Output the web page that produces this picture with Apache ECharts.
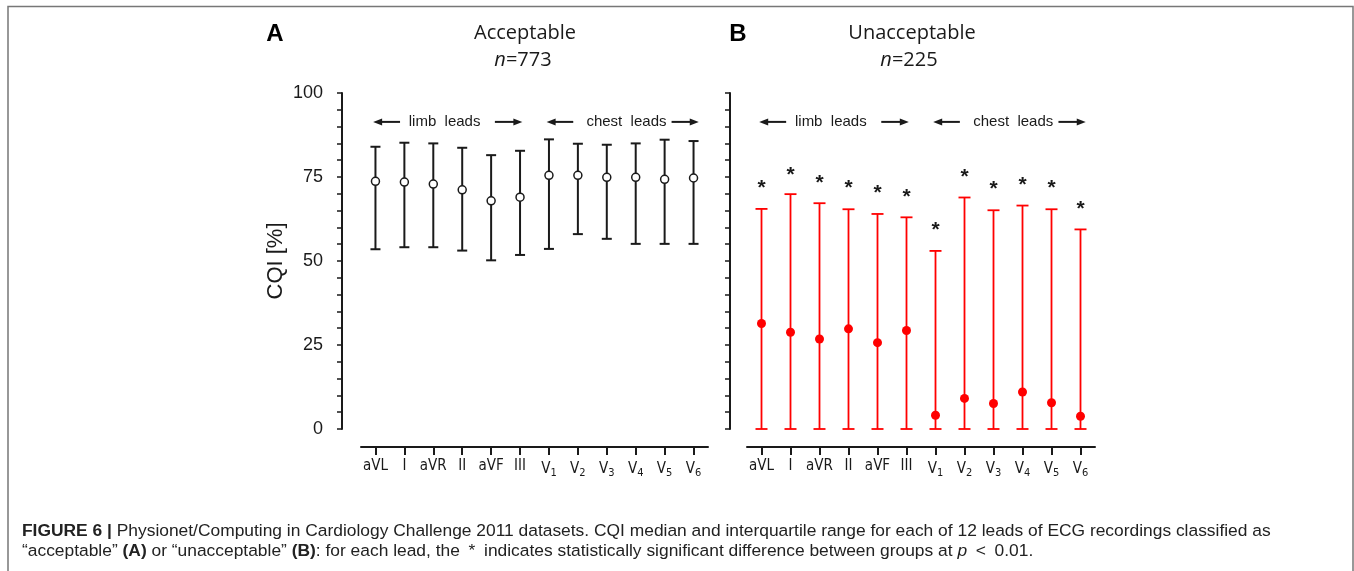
<!DOCTYPE html>
<html><head><meta charset="utf-8">
<script src="https://cdn.jsdelivr.net/npm/echarts@6/dist/echarts.min.js"></script>
<style>html,body{margin:0;padding:0;background:#fff}#c{width:1354px;height:571px}</style>
</head><body><div id="c"></div><script>
// ---- data ----
const leads = ['aVL','I','aVR','II','aVF','III','V1','V2','V3','V4','V5','V6'];
const accMedian = [73.7,73.5,72.9,71.2,67.9,69.0,75.5,75.5,74.9,74.9,74.3,74.7];
const accQ1 = [53.5,54.1,54.1,53.1,50.2,51.8,53.6,58.0,56.6,55.1,55.1,55.1];
const accQ3 = [84.0,85.2,85.0,83.7,81.5,82.8,86.2,84.9,84.6,85.0,86.1,85.7];
const unaMedian = [31.4,28.8,26.8,29.8,25.7,29.3,4.1,9.1,7.6,11.0,7.8,3.8];
const unaQ1 = [0,0,0,0,0,0,0,0,0,0,0,0];
const unaQ3 = [65.5,69.9,67.2,65.4,64.0,63.0,53.0,68.9,65.1,66.5,65.4,59.4];
const unaStar = [72.9,76.8,74.4,72.8,71.4,70.1,60.4,76.1,72.5,73.8,72.8,66.7];
const yMin = 0, yMax = 100, yInterval = 25;
const groupLabels = ['limb  leads','chest  leads'];
const annotY = 91.4;

const TXT = '#1a1a1a';
const RED = '#ff0000';
const chart = echarts.init(document.getElementById('c'), null, {renderer:'canvas'});

function leadLabel(v){
  if (v[0] === 'V') return 'V{s|' + v.slice(1) + '}';
  return v;
}
const xLabelFont = "'Liberation Sans Narrow','DejaVu Sans Condensed','Liberation Sans',sans-serif";

function xAxisCfg(gi){
  return {
    type:'category', gridIndex:gi, data:leads, offset:18,
    axisLine:{show:true, onZero:false, lineStyle:{color:TXT, width:2}},
    axisTick:{show:true, alignWithLabel:true, length:8, lineStyle:{color:TXT, width:2}},
    axisLabel:{color:TXT, fontSize:15, fontFamily:xLabelFont, margin:12, interval:0, hideOverlap:false,
      formatter:leadLabel,
      rich:{s:{fontSize:11, fontFamily:xLabelFont, color:TXT, padding:[9,0,0,0]}}},
    splitLine:{show:false}
  };
}
function yAxisCfg(gi, showLabels, off){
  return {
    type:'value', gridIndex:gi, min:yMin, max:yMax, interval:yInterval, offset:off,
    name: showLabels ? 'CQI [%]' : '', nameLocation:'middle', nameGap:55, nameRotate:90,
    nameTextStyle:{color:TXT, fontSize:22, fontFamily:"'Liberation Sans',Arial,sans-serif"},
    axisLine:{show:true, onZero:false, lineStyle:{color:TXT, width:2}},
    axisTick:{show:true, inside:false, length:5, lineStyle:{color:TXT, width:1.5}},
    minorTick:{show:true, splitNumber:5, length:5, lineStyle:{color:TXT, width:1.5}},
    axisLabel:{show:showLabels, color:TXT, fontSize:18, margin:19, fontFamily:"'Liberation Sans',Arial,sans-serif"},
    splitLine:{show:false}, minorSplitLine:{show:false}
  };
}

function errRender(color, lw, capHalf, withStar){
  return function(params, api){
    const i = api.value(0);
    const lo = api.coord([i, api.value(1)]);
    const hi = api.coord([i, api.value(2)]);
    const st = {stroke:color, lineWidth:lw};
    const ch = [
      {type:'line', shape:{x1:lo[0], y1:lo[1], x2:hi[0], y2:hi[1]}, style:st},
      {type:'line', shape:{x1:hi[0]-capHalf, y1:hi[1], x2:hi[0]+capHalf, y2:hi[1]}, style:st},
      {type:'line', shape:{x1:lo[0]-capHalf, y1:lo[1], x2:lo[0]+capHalf, y2:lo[1]}, style:st}
    ];
    if (withStar){
      const s = api.coord([i, api.value(3)]);
      ch.push({type:'text', x:s[0], y:s[1]+4, style:{text:'*', fill:TXT, fontSize:21, fontWeight:'bold',
        fontFamily:"'Liberation Sans',Arial,sans-serif", align:'center', verticalAlign:'middle'}});
    }
    return {type:'group', children:ch};
  };
}

const accErr = leads.map((l,i)=>[i, accQ1[i], accQ3[i]]);
const unaErr = leads.map((l,i)=>[i, unaQ1[i], unaQ3[i], unaStar[i]]);

const captionFont = "'Liberation Sans',Arial,sans-serif";
const option = {
  animation:false,
  backgroundColor:'#fff',
  grid:[
    {left:361, top:93, width:347, height:336, containLabel:false, outerBoundsMode:'none'},
    {left:747, top:93, width:348, height:336, containLabel:false, outerBoundsMode:'none'}
  ],
  xAxis:[xAxisCfg(0), xAxisCfg(1)],
  yAxis:[yAxisCfg(0, true, 19), yAxisCfg(1, false, 17)],
  series:[
    {type:'custom', xAxisIndex:0, yAxisIndex:0, data:accErr, encode:{x:0, y:[1,2]},
      renderItem:errRender(TXT, 2, 5, false), z:2, silent:true},
    {type:'scatter', xAxisIndex:0, yAxisIndex:0, data:leads.map((l,i)=>[i, accMedian[i]]),
      symbol:'circle', symbolSize:8, itemStyle:{color:'#fff', borderColor:TXT, borderWidth:1.5, opacity:1}, z:3, silent:true},
    {type:'custom', xAxisIndex:1, yAxisIndex:1, data:unaErr, encode:{x:0, y:[1,2]},
      renderItem:errRender(RED, 1.8, 6, true), z:2, silent:true},
    {type:'scatter', xAxisIndex:1, yAxisIndex:1, data:leads.map((l,i)=>[i, unaMedian[i]]),
      symbol:'circle', symbolSize:9, itemStyle:{color:RED, opacity:1}, z:3, silent:true}
  ],
  graphic:[]
};
chart.setOption(option);

// ---- annotations placed via the axes ----
function px(gi, idx, val){
  const a = chart.convertToPixel({gridIndex:gi}, [0, val]);
  const b = chart.convertToPixel({gridIndex:gi}, [11, val]);
  return [a[0] + (b[0]-a[0]) * idx / 11, a[1]];
}
function arrow(gi, from, to, headLeft){
  const p1 = px(gi, from, annotY), p2 = px(gi, to, annotY);
  const y = p1[1];
  const hx = headLeft ? p1[0] : p2[0];
  const dir = headLeft ? 1 : -1;
  return {type:'group', silent:true, children:[
    {type:'line', shape:{x1:p1[0] + (headLeft?6:0), y1:y, x2:p2[0] - (headLeft?0:6), y2:y}, style:{stroke:TXT, lineWidth:2}},
    {type:'polygon', shape:{points:[[hx, y],[hx+dir*9, y-3.5],[hx+dir*9, y+3.5]]}, style:{fill:TXT}}
  ]};
}
function label(gi, at, text){
  const p = px(gi, at, annotY);
  return {type:'text', x:p[0], y:p[1], silent:true, style:{text:text, fill:TXT, fontSize:15,
    fontFamily:"'Liberation Sans',Arial,sans-serif", align:'center', verticalAlign:'middle'}};
}
const g = [];
[0,1].forEach(gi=>{
  g.push(arrow(gi, -0.08, 0.85, true));
  g.push(label(gi, 2.39, groupLabels[0]));
  g.push(arrow(gi, 4.13, 5.08, false));
  g.push(arrow(gi, 5.92, 6.84, true));
  g.push(label(gi, 8.68, groupLabels[1]));
  g.push(arrow(gi, 10.24, 11.18, false));
});
const titleFont = "'Open Sans','Noto Sans',sans-serif";
g.push({type:'text', x:275, y:34, style:{text:'A', fill:'#000', fontSize:24, fontWeight:'bold', fontFamily:"'Liberation Sans',Arial,sans-serif", align:'center', verticalAlign:'middle'}});
g.push({type:'text', x:738, y:34, style:{text:'B', fill:'#000', fontSize:24, fontWeight:'bold', fontFamily:"'Liberation Sans',Arial,sans-serif", align:'center', verticalAlign:'middle'}});
g.push({type:'text', x:525, y:33, style:{text:'Acceptable', fill:TXT, fontSize:20, fontFamily:titleFont, align:'center', verticalAlign:'middle'}});
g.push({type:'text', x:523, y:60, style:{text:'{i|n}=773', fill:TXT, fontSize:20, fontFamily:titleFont, align:'center', verticalAlign:'middle',
  rich:{i:{fontStyle:'italic', fontSize:20, fontFamily:titleFont, fill:TXT}}}});
g.push({type:'text', x:912, y:33, style:{text:'Unacceptable', fill:TXT, fontSize:20, fontFamily:titleFont, align:'center', verticalAlign:'middle'}});
g.push({type:'text', x:909, y:60, style:{text:'{i|n}=225', fill:TXT, fontSize:20, fontFamily:titleFont, align:'center', verticalAlign:'middle',
  rich:{i:{fontStyle:'italic', fontSize:20, fontFamily:titleFont, fill:TXT}}}});
// caption
const CAP = 17.4;
const capRich = {
  b:{fontWeight:'bold', fontSize:CAP, fontFamily:captionFont, fill:'#222'},
  i:{fontStyle:'italic', fontSize:CAP, fontFamily:captionFont, fill:'#222'}
};
g.push({type:'text', x:22, y:531, style:{text:'{b|FIGURE 6 |} Physionet/Computing in Cardiology Challenge 2011 datasets. CQI median and interquartile range for each of 12 leads of ECG recordings classified as',
  fill:'#222', fontSize:CAP, fontFamily:captionFont, verticalAlign:'middle', rich:capRich}});
g.push({type:'text', x:22, y:551, style:{text:'\u201cacceptable\u201d {b|(A)} or \u201cunacceptable\u201d {b|(B)}: for each lead, the\u2002*\u2002indicates statistically significant difference between groups at {i|p}\u2002<\u20020.01.',
  fill:'#222', fontSize:CAP, fontFamily:captionFont, verticalAlign:'middle', rich:capRich}});
// frame
g.push({type:'rect', shape:{x:8, y:6.5, width:1345, height:700}, style:{fill:null, stroke:'#777', lineWidth:1.5}, silent:true, z:-1});
chart.setOption({graphic:g});
</script></body></html>
